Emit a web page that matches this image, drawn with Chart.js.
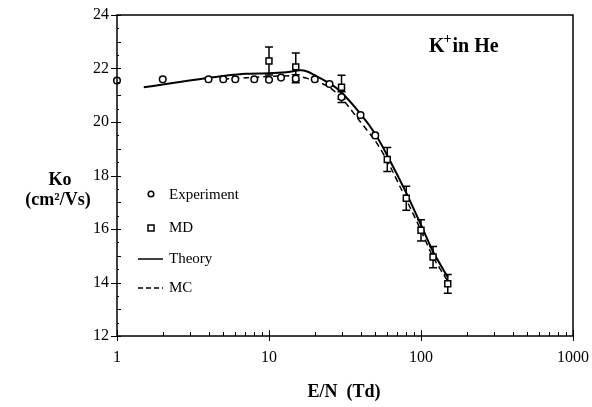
<!DOCTYPE html>
<html>
<head>
<meta charset="utf-8">
<script src="https://cdn.jsdelivr.net/npm/chart.js@4/dist/chart.umd.min.js"></script>
<style>
  html, body { margin: 0; padding: 0; background: #fff; }
  #wrap { width: 592px; height: 407px; position: relative; }
</style>
</head>
<body>
<div id="wrap"><canvas id="grafico"></canvas></div>
<script>
// datos
const expE = [1, 2, 4, 5, 6, 8, 10, 12, 15, 20, 25, 30, 40, 50];
const expK = [21.55, 21.6, 21.6, 21.6, 21.6, 21.6, 21.58, 21.66, 21.62, 21.6, 21.42, 20.93, 20.26, 19.5];
const expErr = [0, 0, 0, 0, 0, 0, 0, 0, 0.15, 0, 0, 0.2, 0, 0];

const mdE = [10, 15, 30, 60, 80, 100, 120, 150];
const mdK = [22.28, 22.06, 21.3, 18.6, 17.15, 15.95, 14.95, 13.95];
const mdErr = [0.52, 0.52, 0.45, 0.45, 0.45, 0.4, 0.4, 0.35];

const theoryE = [1.5, 2, 3, 4, 5, 7, 10, 13, 16, 18, 20, 25, 30, 40, 50, 60, 80, 100, 120, 150];
const theoryK = [21.3, 21.4, 21.55, 21.65, 21.72, 21.8, 21.82, 21.86, 21.93, 21.88, 21.75, 21.45, 21.1, 20.3, 19.55, 18.75, 17.35, 16.15, 15.15, 14.2];

const mcE = [5, 7, 10, 15, 20, 25, 30, 40, 50, 60, 80, 100, 120, 150];
const mcK = [21.6, 21.65, 21.7, 21.72, 21.55, 21.3, 20.9, 20.0, 19.3, 18.55, 17.1, 15.95, 14.95, 14.05];

const xTickLabels = [1, 10, 100, 1000];
const yTicks = [12, 14, 16, 18, 20, 22, 24];

const serif = '"Liberation Serif", "DejaVu Serif", serif';

function pares(xs, ys) {
    return xs.map((x, i) => ({ x: x, y: ys[i] }));
}

// barras de error, ejes con marcas y textos
const extras = {
    id: 'extras',
    beforeDatasetsDraw(chart) {
        const ctx = chart.ctx;
        const xs = chart.scales.x, ys = chart.scales.y;
        ctx.save();
        ctx.strokeStyle = '#000';
        ctx.lineWidth = 1.5;
        const barras = (E, K, err) => {
            E.forEach((e, i) => {
                if (!err[i]) return;
                const px = xs.getPixelForValue(e);
                const y1 = ys.getPixelForValue(K[i] + err[i]);
                const y2 = ys.getPixelForValue(K[i] - err[i]);
                ctx.beginPath();
                ctx.moveTo(px, y1); ctx.lineTo(px, y2);
                ctx.moveTo(px - 4, y1); ctx.lineTo(px + 4, y1);
                ctx.moveTo(px - 4, y2); ctx.lineTo(px + 4, y2);
                ctx.stroke();
            });
        };
        barras(mdE, mdK, mdErr);
        barras(expE, expK, expErr);
        ctx.restore();
    },
    afterDraw(chart) {
        const ctx = chart.ctx;
        const a = chart.chartArea;
        const xs = chart.scales.x, ys = chart.scales.y;
        ctx.save();
        ctx.strokeStyle = '#000';
        ctx.fillStyle = '#000';

        // marco
        ctx.lineWidth = 1.5;
        ctx.strokeRect(a.left, a.top, a.right - a.left, a.bottom - a.top);

        // marcas eje y
        ctx.lineWidth = 1;
        ctx.beginPath();
        for (let v = 12; v <= 24; v += 0.5) {
            const py = Math.round(ys.getPixelForValue(v)) + 0.5;
            if (v % 2 === 0) {
                ctx.moveTo(a.left - 6, py); ctx.lineTo(a.left + 4, py);
            } else if (v % 1 === 0) {
                ctx.moveTo(a.left, py); ctx.lineTo(a.left + 4, py);
            } else {
                ctx.moveTo(a.left, py); ctx.lineTo(a.left + 2, py);
            }
        }
        // marcas eje x
        for (let d = 1; d <= 1000; d *= 10) {
            for (let m = 1; m <= 9; m++) {
                const v = d * m;
                if (v > 1000) break;
                const px = Math.round(xs.getPixelForValue(v)) + 0.5;
                if (m === 1) {
                    ctx.moveTo(px, a.bottom + 5); ctx.lineTo(px, a.bottom - 6);
                } else {
                    ctx.moveTo(px, a.bottom); ctx.lineTo(px, a.bottom - 4);
                }
            }
        }
        ctx.stroke();

        // titulos de ejes
        ctx.font = 'bold 18px ' + serif;
        ctx.textAlign = 'center';
        ctx.textBaseline = 'middle';
        ctx.fillText('E/N  (Td)', 344, 392);
        ctx.fillText('Ko', 60, 180);
        ctx.fillText('(cm\u00B2/Vs)', 58, 200);

        // rotulo K+ in He
        ctx.textAlign = 'left';
        ctx.textBaseline = 'alphabetic';
        ctx.font = 'bold 20px ' + serif;
        ctx.fillText('K', 429, 52);
        const wK = ctx.measureText('K').width;
        ctx.font = 'bold 14px ' + serif;
        ctx.fillText('+', 428 + wK, 43);
        ctx.font = 'bold 20px ' + serif;
        ctx.fillText('in He', 429 + wK + 8, 52);

        // leyenda
        ctx.font = '15px ' + serif;
        ctx.textBaseline = 'middle';
        ctx.lineWidth = 1.5;
        ctx.fillStyle = '#fff';
        ctx.beginPath(); ctx.arc(151, 194, 2.8, 0, Math.PI * 2); ctx.fill(); ctx.stroke();
        ctx.fillRect(148, 225, 6, 6); ctx.strokeRect(148, 225, 6, 6);
        ctx.beginPath(); ctx.moveTo(138, 259); ctx.lineTo(163, 259); ctx.stroke();
        ctx.setLineDash([5, 3]);
        ctx.beginPath(); ctx.moveTo(138, 288); ctx.lineTo(163, 288); ctx.stroke();
        ctx.setLineDash([]);
        ctx.fillStyle = '#000';
        ctx.fillText('Experiment', 169, 195);
        ctx.fillText('MD', 169, 228);
        ctx.fillText('Theory', 169, 259);
        ctx.fillText('MC', 169, 288);
        ctx.restore();
    }
};

const ctxGrafico = document.getElementById('grafico').getContext('2d');

new Chart(ctxGrafico, {
    type: 'scatter',
    data: {
        datasets: [
            {
                label: 'Experiment',
                data: pares(expE, expK),
                pointStyle: 'circle',
                pointRadius: 3.3,
                backgroundColor: '#fff',
                borderColor: '#000',
                borderWidth: 1.5,
                clip: false,
                order: 0
            },
            {
                label: 'MD',
                data: pares(mdE, mdK),
                pointStyle: 'rect',
                pointRadius: 4.2,
                backgroundColor: '#fff',
                borderColor: '#000',
                borderWidth: 1.5,
                order: 0
            },
            {
                label: 'Theory',
                type: 'line',
                data: pares(theoryE, theoryK),
                borderColor: '#000',
                borderWidth: 2,
                pointRadius: 0,
                tension: 0.2,
                fill: false,
                order: 1
            },
            {
                label: 'MC',
                type: 'line',
                data: pares(mcE, mcK),
                borderColor: '#000',
                borderWidth: 1.5,
                borderDash: [6, 4],
                pointRadius: 0,
                tension: 0.2,
                fill: false,
                order: 2
            }
        ]
    },
    options: {
        responsive: true,
        maintainAspectRatio: false,
        animation: false,
        layout: { padding: { left: 0, top: 15, right: 19, bottom: 0 } },
        plugins: {
            legend: { display: false },
            tooltip: { enabled: false }
        },
        scales: {
            x: {
                type: 'logarithmic',
                min: 1,
                max: 1000,
                grid: { display: false, drawTicks: false, tickLength: 0 },
                border: { display: false },
                afterFit: function(s) {
                    s.height = 71;
                    s.paddingLeft = 0;
                    s.paddingRight = 0;
                },
                afterBuildTicks: function(s) {
                    s.ticks = xTickLabels.map(v => ({ value: v }));
                },
                ticks: {
                    autoSkip: false,
                    maxRotation: 0,
                    padding: 12,
                    color: '#000',
                    font: { family: serif, size: 16 },
                    callback: function(v) { return String(v); }
                }
            },
            y: {
                type: 'linear',
                min: 12,
                max: 24,
                grid: { display: false, drawTicks: false, tickLength: 0 },
                border: { display: false },
                afterFit: function(s) {
                    s.width = 117;
                    s.paddingTop = 0;
                    s.paddingBottom = 0;
                },
                afterBuildTicks: function(s) {
                    s.ticks = yTicks.map(v => ({ value: v }));
                },
                ticks: {
                    padding: 8,
                    color: '#000',
                    font: { family: serif, size: 16 }
                }
            }
        }
    },
    plugins: [extras]
});
</script>
</body>
</html>
